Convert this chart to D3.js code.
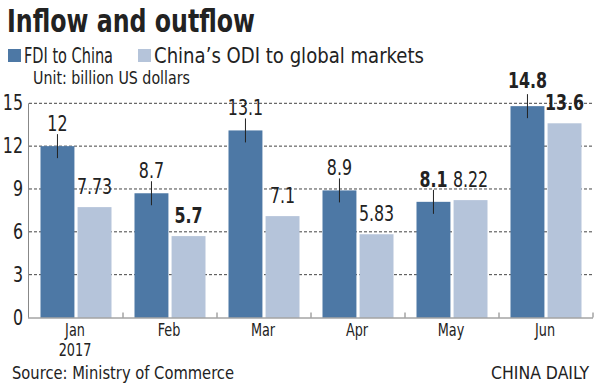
<!DOCTYPE html>
<html>
<head>
<meta charset="utf-8">
<script src="https://cdn.jsdelivr.net/npm/d3@7"></script>
<style>
  body { margin: 0; background: #fff; }
  svg { display: block; }
  text { font-family: "Liberation Sans Narrow", "DejaVu Sans Condensed", "Roboto", sans-serif; fill: #222; }
</style>
</head>
<body>
<div id="chart"></div>
<script>
// Data
const months = ["Jan", "Feb", "Mar", "Apr", "May", "Jun"];
const fdi = [12, 8.7, 13.1, 8.9, 8.1, 14.8];
const odi = [7.73, 5.7, 7.1, 5.83, 8.22, 13.6];
const fdiBold = [false, false, false, false, true, true];
const odiBold = [false, true, false, false, false, true];
const yTicks = [0, 3, 6, 9, 12, 15];
const seriesNames = ["FDI to China", "China\u2019s ODI to global markets"];

const width = 600;
const height = 385;
const colFdi = "#4d78a5";
const colOdi = "#b5c4da";
const squeeze = 0.84; // condensed look

const svg = d3.select("#chart")
  .append("svg")
  .attr("width", width)
  .attr("height", height);

// place text with horizontal squeeze
function place(sel, fx, fy) {
  sel.attr("x", 0).attr("y", 0)
    .attr("transform", (d, i) => `translate(${fx(d, i)},${fy(d, i)}) scale(${squeeze},1)`);
  return sel;
}

const x = d3.scaleBand()
  .domain(months)
  .range([29, 593]);

const x1 = d3.scaleBand()
  .domain(["fdi", "odi"])
  .range([11.5, x.bandwidth() - 11.5])
  .paddingInner(0.085);

const y = d3.scaleLinear()
  .domain([0, 15])
  .range([317.5, 103.3]);

// Title + legend
svg.append("text")
  .attr("x", 7).attr("y", 32)
  .attr("font-size", 32)
  .attr("font-weight", "bold")
  .attr("textLength", 248)
  .attr("lengthAdjust", "spacingAndGlyphs")
  .text("Inflow and outflow");

const legend = [
  { name: seriesNames[0], color: colFdi, x: 8, w: 89 },
  { name: seriesNames[1], color: colOdi, x: 138, w: 270 }
];
legend.forEach(d => {
  svg.append("rect")
    .attr("x", d.x).attr("y", 49)
    .attr("width", 13).attr("height", 13)
    .attr("fill", d.color);
  svg.append("text")
    .attr("x", d.x + 16).attr("y", 63)
    .attr("font-size", 21)
    .attr("fill", "#333")
    .attr("textLength", d.w)
    .attr("lengthAdjust", "spacingAndGlyphs")
    .text(d.name);
});

svg.append("text")
  .attr("x", 33).attr("y", 84)
  .attr("font-size", 17)
  .attr("fill", "#444")
  .attr("textLength", 157)
  .attr("lengthAdjust", "spacingAndGlyphs")
  .text("Unit: billion US dollars");

// Grid
svg.append("g")
  .selectAll("line")
  .data(yTicks.filter(t => t > 0))
  .join("line")
  .attr("x1", 29).attr("x2", 592)
  .attr("y1", d => y(d)).attr("y2", d => y(d))
  .attr("stroke", "#444")
  .attr("stroke-width", 1)
  .attr("stroke-dasharray", "3,2");

// y axis labels
svg.append("g")
  .selectAll("text")
  .data(yTicks)
  .join("text")
  .call(place, () => 23, d => y(d) + 7)
  .attr("text-anchor", "end")
  .attr("font-size", 21)
  .attr("fill", "#444")
  .text(d => d);

// Left axis line
svg.append("line")
  .attr("x1", 28.5).attr("x2", 28.5)
  .attr("y1", y(15)).attr("y2", y(0))
  .attr("stroke", "#888");

// Bars
const rows = months.map((m, i) => ({ m, fdi: fdi[i], odi: odi[i], fb: fdiBold[i], ob: odiBold[i] }));
const groups = svg.append("g")
  .selectAll("g")
  .data(rows)
  .join("g")
  .attr("transform", d => `translate(${x(d.m)},0)`);

groups.append("rect")
  .attr("x", x1("fdi"))
  .attr("y", d => y(d.fdi))
  .attr("width", x1.bandwidth())
  .attr("height", d => y(0) - y(d.fdi))
  .attr("fill", colFdi);

groups.append("rect")
  .attr("x", x1("odi"))
  .attr("y", d => y(d.odi))
  .attr("width", x1.bandwidth())
  .attr("height", d => y(0) - y(d.odi))
  .attr("fill", colOdi);

// FDI label with leader line
const cF = x1("fdi") + x1.bandwidth() / 2;
const cO = x1("odi") + x1.bandwidth() / 2;

groups.append("line")
  .attr("x1", cF).attr("x2", cF)
  .attr("y1", d => y(d.fdi) - 12)
  .attr("y2", d => y(d.fdi) + 12)
  .attr("stroke", "#222")
  .attr("stroke-width", 1);

groups.append("text")
  .call(place, () => cF, d => y(d.fdi) - 15 - (d.fdi > 14 ? 3 : 0))
  .attr("text-anchor", "middle")
  .attr("font-size", 21)
  .attr("font-weight", d => d.fb ? "bold" : "normal")
  .text(d => d.fdi);

groups.append("text")
  .call(place, () => cO, d => y(d.odi) - 13)
  .attr("text-anchor", "middle")
  .attr("font-size", 21)
  .attr("font-weight", d => d.ob ? "bold" : "normal")
  .text(d => d.odi);

// x axis
svg.append("line")
  .attr("x1", 28).attr("x2", 593)
  .attr("y1", y(0) + 0.5).attr("y2", y(0) + 0.5)
  .attr("stroke", "#777");

svg.append("g")
  .selectAll("line")
  .data(months)
  .join("line")
  .attr("x1", d => x(d) + x.step())
  .attr("x2", d => x(d) + x.step())
  .attr("y1", y(0) - 5).attr("y2", y(0))
  .attr("stroke", "#777");

svg.append("g")
  .selectAll("text")
  .data(months)
  .join("text")
  .call(place, d => x(d) + x.bandwidth() / 2 - 1, () => 336)
  .attr("text-anchor", "middle")
  .attr("font-size", 17)
  .attr("fill", "#444")
  .text(d => d);

svg.append("text")
  .datum("2017")
  .call(place, () => x("Jan") + x.bandwidth() / 2 - 1, () => 356)
  .attr("text-anchor", "middle")
  .attr("font-size", 17)
  .attr("fill", "#444")
  .text(d => d);

// Footer
svg.append("text")
  .attr("x", 12).attr("y", 379)
  .attr("font-size", 18)
  .attr("fill", "#333")
  .attr("textLength", 222)
  .attr("lengthAdjust", "spacingAndGlyphs")
  .text("Source: Ministry of Commerce");

svg.append("text")
  .attr("x", 589).attr("y", 379)
  .attr("text-anchor", "end")
  .attr("font-size", 17)
  .attr("fill", "#333")
  .attr("textLength", 98)
  .attr("lengthAdjust", "spacingAndGlyphs")
  .text("CHINA DAILY");
</script>
</body>
</html>
